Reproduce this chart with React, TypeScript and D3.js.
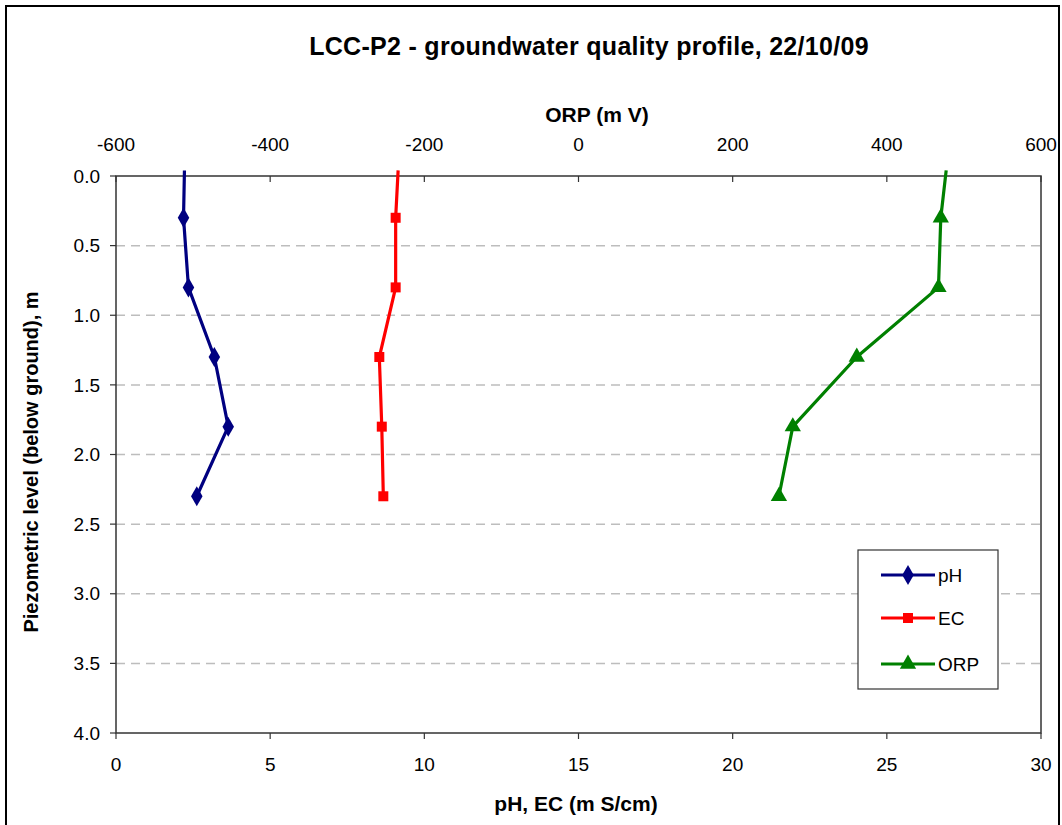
import React from "react";
import * as d3 from "d3";

const depths = [-0.04, 0.3, 0.8, 1.3, 1.8, 2.3];
const phValues = [2.22, 2.19, 2.35, 3.19, 3.64, 2.62];
const ecValues = [9.15, 9.07, 9.07, 8.54, 8.62, 8.67];
const orpValues = [477, 470, 467, 361, 278, 260];
const markerFrom = 1;

const bottomTicks = [0, 5, 10, 15, 20, 25, 30];
const topTicks = [-600, -400, -200, 0, 200, 400, 600];
const depthTicks = [0, 0.5, 1, 1.5, 2, 2.5, 3, 3.5, 4];

const W = 1062;
const H = 825;
const L = 116, R = 1041, T = 176, B = 733;
const FONT = "Arial, 'Liberation Sans', sans-serif";

export default function App() {
  const x = d3.scaleLinear().domain([0, 30]).range([L, R]);
  const xTop = d3.scaleLinear().domain([-600, 600]).range([L, R]);
  const y = d3.scaleLinear().domain([0, 4]).range([T, B]);

  const series = [
    { name: "pH", color: "#000080", vals: phValues, sx: x, marker: "diamond" },
    { name: "EC", color: "#FF0000", vals: ecValues, sx: x, marker: "square" },
    { name: "ORP", color: "#008000", vals: orpValues, sx: xTop, marker: "triangle" },
  ];

  const sym = (m: string) => {
    if (m === "diamond") return d3.symbol(d3.symbolDiamond, 115)();
    if (m === "square") return d3.symbol(d3.symbolSquare, 100)();
    return d3.symbol(d3.symbolTriangle, 115)();
  };

  const legendX = 858, legendY = 550;
  const legendRows = [575, 618, 664];

  return (
    <svg width={W} height={H} style={{ position: "absolute", left: 0, top: 0, background: "#fff" }} fontFamily={FONT}>
      <rect x={6} y={6} width={1053} height={830} fill="#fff" stroke="#000" strokeWidth={2} />
      <text x={589} y={55} textAnchor="middle" fontSize={25} fontWeight="bold" letterSpacing={0.3}>
        LCC-P2 - groundwater quality profile, 22/10/09
      </text>

      {/* gridlines */}
      {depthTicks.filter(t => t > 0 && t < 4).map(t => (
        <line key={"g" + t} x1={L} x2={R} y1={y(t)} y2={y(t)} stroke="#bdbdbd" strokeWidth={1.5} strokeDasharray="9,6" />
      ))}

      {/* plot frame */}
      <rect x={L} y={T} width={R - L} height={B - T} fill="none" stroke="#333" strokeWidth={1.5} />

      {/* left axis */}
      {depthTicks.map(t => (
        <g key={"l" + t}>
          <line x1={L - 6} x2={L} y1={y(t)} y2={y(t)} stroke="#333" strokeWidth={1.2} />
          <text x={L - 16} y={y(t)} dy="0.35em" textAnchor="end" fontSize={19}>{t.toFixed(1)}</text>
        </g>
      ))}
      {/* bottom axis */}
      {bottomTicks.map(t => (
        <g key={"b" + t}>
          <line x1={x(t)} x2={x(t)} y1={B} y2={B + 6} stroke="#333" strokeWidth={1.2} />
          <text x={x(t)} y={B + 38} textAnchor="middle" fontSize={19}>{t}</text>
        </g>
      ))}
      {/* top axis */}
      {topTicks.map(t => (
        <g key={"t" + t}>
          <line x1={xTop(t)} x2={xTop(t)} y1={T} y2={T + 6} stroke="#333" strokeWidth={1.2} />
          <text x={xTop(t)} y={151} textAnchor="middle" fontSize={19}>{t}</text>
        </g>
      ))}

      <text x={597} y={122} textAnchor="middle" fontSize={21} fontWeight="bold">ORP (m V)</text>
      <text x={576} y={811} textAnchor="middle" fontSize={21} fontWeight="bold">pH, EC (m S/cm)</text>
      <text transform={`translate(38, ${462}) rotate(-90)`} textAnchor="middle" fontSize={20} fontWeight="bold">
        Piezometric level (below ground), m
      </text>

      {/* series */}
      {series.map(s => {
        const line = d3.line<number>().x((v) => s.sx(v)).y((_, i) => y(depths[i]));
        return (
          <g key={s.name}>
            <path d={line(s.vals) || ""} fill="none" stroke={s.color} strokeWidth={3.2} strokeLinejoin="round" />
            {s.vals.map((v, i) => i >= markerFrom ? (
              <path key={i} d={sym(s.marker) || ""} transform={`translate(${s.sx(v)},${y(depths[i])})`} fill={s.color} />
            ) : null)}
          </g>
        );
      })}

      {/* legend */}
      <rect x={legendX} y={legendY} width={140} height={139} fill="#fff" stroke="#333" strokeWidth={1.2} />
      {series.map((s, i) => (
        <g key={"lg" + s.name}>
          <line x1={881} x2={935} y1={legendRows[i]} y2={legendRows[i]} stroke={s.color} strokeWidth={3.2} />
          <path d={sym(s.marker) || ""} transform={`translate(908,${legendRows[i]})`} fill={s.color} />
          <text x={938} y={legendRows[i]} dy="0.36em" fontSize={19}>{s.name}</text>
        </g>
      ))}
    </svg>
  );
}
